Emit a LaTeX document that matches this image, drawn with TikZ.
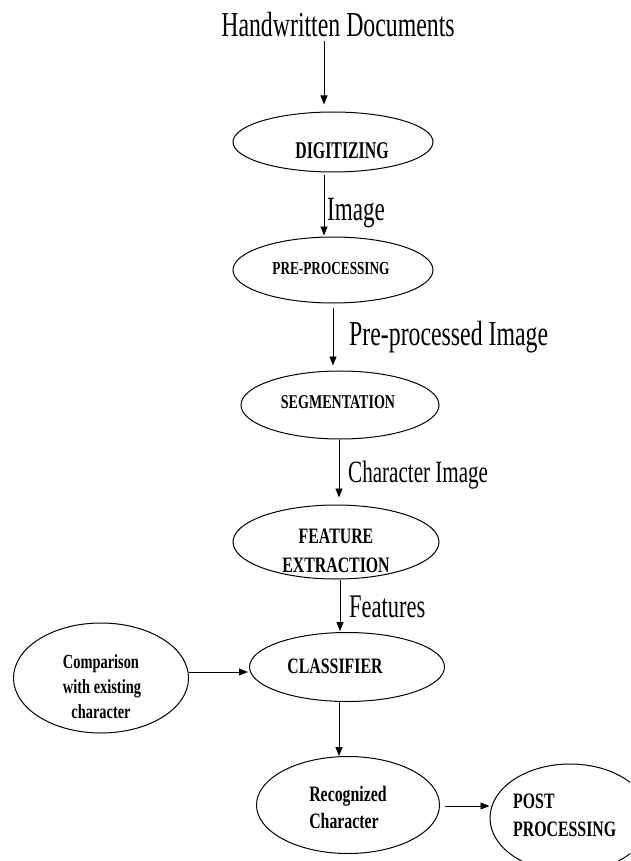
\documentclass[tikz,border=0pt]{standalone}
\usepackage{fontspec}
\usetikzlibrary{shapes.geometric,arrows.meta}
\newfontfamily\condA[FakeStretch=0.68]{Liberation Serif}
\newfontfamily\condB[FakeStretch=0.72]{Liberation Serif}
\newfontfamily\condC[FakeStretch=0.66]{Liberation Serif}
\newcommand\bsz[1]{\condB\bfseries\fontsize{#1}{#1}\selectfont}
\newcommand\rsz[1]{\condA\fontsize{#1}{#1}\selectfont}
\tikzset{
  bub/.style={draw, ellipse, line width=1pt, inner sep=0pt},
  lbl/.style={inner sep=0pt, anchor=base west},
  ttl/.style={inner sep=0pt, anchor=base},
  arr/.style={-{Triangle[length=9pt,width=7pt]}, line width=0.8pt},
}
\begin{document}
\begin{tikzpicture}[x=1pt,y=-1pt]
\useasboundingbox (0,0) rectangle (630,861);
\clip (0,0) rectangle (630,861);
\fill[white] (0,0) rectangle (630,861);
% ellipses
\node[bub, minimum width=200pt, minimum height=60pt] (dig) at (333,142) {};
\node[bub, minimum width=200pt, minimum height=66pt] (pre) at (333,270) {};
\node[bub, minimum width=198pt, minimum height=68pt] (seg) at (340,405) {};
\node[bub, minimum width=206pt, minimum height=74pt] (fe) at (336,542) {};
\node[bub, minimum width=195pt, minimum height=69pt] (cls) at (347,667) {};
\node[bub, minimum width=175pt, minimum height=110pt] (cmp) at (101,678) {};
\node[bub, minimum width=183pt, minimum height=97pt] (rec) at (348,805) {};
\node[bub, minimum width=160pt, minimum height=108pt] (post) at (570,818) {};
% texts
\node[ttl, font=\rsz{35}] (title) at (338,37) {Handwritten Documents};
\node[ttl, font=\condC\bfseries\fontsize{24}{24}\selectfont] (tdig) at (342,159) {DIGITIZING};
\node[ttl, font=\bsz{18.4}] (tpre) at (331,274) {PRE-PROCESSING};
\node[ttl, font=\bsz{19.5}] (tseg) at (338,408) {SEGMENTATION};
\node[ttl, font=\bsz{22}] (tfe1) at (336,543) {FEATURE};
\node[ttl, font=\bsz{22}] (tfe2) at (336,572) {EXTRACTION};
\node[ttl, font=\bsz{22}] (tcls) at (335,673) {CLASSIFIER};
\node[ttl, font=\bsz{20}] (tcmp1) at (101,668) {Comparison};
\node[ttl, font=\bsz{20}] (tcmp2) at (102,693) {with existing};
\node[ttl, font=\bsz{20}] (tcmp3) at (101,718) {character};
\node[ttl, font=\bsz{22}] (trec1) at (348,801) {Recognized};
\node[ttl, font=\bsz{22}] (trec2) at (344,828) {Character};
\node[lbl, font=\bsz{22}] (tpost1) at (513,808) {POST};
\node[lbl, font=\bsz{22}] (tpost2) at (513,836) {PROCESSING};
\node[lbl, font=\rsz{34}] (limg) at (327,220) {Image};
\node[lbl, font=\rsz{35}] (lpre) at (349,345) {Pre-processed Image};
\node[lbl, font=\rsz{31}] (lchr) at (348,482) {Character Image};
\node[lbl, font=\rsz{33}] (lfea) at (349,617) {Features};
% connector guides
\coordinate (x1) at (324,0);
\coordinate (x3) at (333,0);
\coordinate (x4) at (339,0);
\coordinate (x5) at (340,0);
\coordinate (y7) at (0,806);
\coordinate (y8) at (0,672);
% connectors
\draw[arr, shorten <=3pt, shorten >=7pt] (title.south -| x1) -- (dig.north -| x1);
\draw[arr, shorten <=3pt, shorten >=1pt] (dig.south -| x1) -- (pre.north -| x1);
\draw[arr, shorten <=4pt, shorten >=5pt] (pre.south -| x3) -- (seg.north -| x3);
\draw[arr, shorten >=7pt] (seg.south -| x4) -- (fe.north -| x4);
\draw[arr, shorten >=1pt] (fe.south -| x5) -- (cls.north -| x5);
\draw[arr] (cls.south -| x4) -- (rec.north -| x4);
\draw[arr, shorten <=5pt] (rec.east |- y7) -- (post.west |- y7);
\draw[arr, shorten >=1pt] (cmp.east |- y8) -- (cls.west |- y8);
\end{tikzpicture}
\end{document}
